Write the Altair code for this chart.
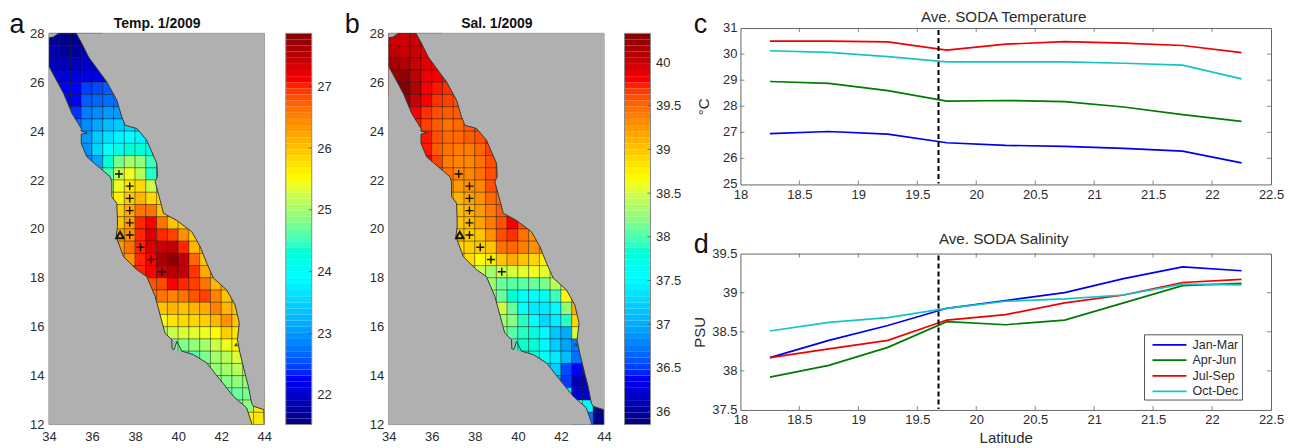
import altair as alt
import numpy as np
import pandas as pd

# ---------- map grids (cell centres, 0.5 deg cells) ----------
LATS = [27.75,27.25,26.75,26.25,25.75,25.25,24.75,24.25,23.75,23.25,22.75,22.25,21.75,21.25,20.75,20.25,
        19.75,19.25,18.75,18.25,17.75,17.25,16.75,16.25,15.75,15.25,14.75,14.25,13.75,13.25,12.75,12.25]
T_START = [34.25,34.25,34.25,34.25,34.25,34.75,34.75,35.25,35.75,35.75,35.75,36.25,36.75,36.75,36.75,36.75,
           36.75,36.75,37.25,37.75,38.25,38.25,38.75,38.75,38.75,39.25,39.75,40.75,41.25,41.75,42.25,43.25]
TEMP = [
 [21.65,21.6,21.6,21.7],
 [21.8,21.7,21.7,21.8],
 [21.9,21.9,21.9,22.0,22.0],
 [22.1,22.1,22.1,22.15,22.2,22.3],
 [22.2,22.25,22.3,22.45,22.5,22.6],
 [22.3,22.3,22.6,22.65,22.7,22.7],
 [22.3,22.4,22.8,22.9,23.0,23.0],
 [22.7,22.9,23.1,23.3,23.4,23.5,23.5],
 [23.0,23.4,23.6,23.8,23.9,23.8,23.8],
 [22.95,23.5,24.0,24.15,24.3,24.3,24.2],
 [22.9,23.1,24.3,24.8,25.0,24.9,24.5],
 [24.2,24.5,25.15,25.4,25.1,24.4],
 [25.0,25.4,25.7,25.8,25.2],
 [25.4,25.6,25.95,26.1,25.8],
 [25.6,25.9,26.2,26.6,26.6,26.0],
 [25.8,26.0,26.3,27.0,27.1,26.6,26.0,25.9],
 [26.0,26.2,26.4,27.0,27.3,27.0,26.9,26.4,25.9],
 [26.1,26.3,26.6,27.0,27.3,27.4,27.45,27.0,26.1],
 [26.2,26.4,27.0,27.1,27.6,27.8,27.45,26.7,26.0],
 [26.8,27.0,27.1,27.4,27.5,27.45,26.95,26.2],
 [26.8,26.8,26.85,27.1,27.0,26.9,26.6,26.1],
 [26.6,26.6,26.6,26.5,26.6,26.8,26.9,26.5,26.0],
 [26.0,26.0,26.1,26.0,26.1,26.2,26.5,26.1,26.0],
 [25.5,25.5,25.7,25.8,25.85,25.9,26.1,26.4,26.0],
 [25.1,25.1,25.2,25.3,25.35,25.4,25.5,25.9,25.7],
 [25.0,24.7,24.8,24.9,25.0,25.2,25.4,25.5],
 [24.6,24.6,24.6,24.8,25.0,25.1,25.3],
 [24.8,24.9,24.95,25.0,25.1],
 [24.8,24.9,24.85,24.9],
 [24.7,24.7,24.7,24.8],
 [24.8,24.8,24.9,25.7],
 [25.6,25.7],
]
S_START = T_START
SAL = [
 [40.0,40.0,40.0,39.95],
 [40.05,40.0,40.0,39.9],
 [40.15,40.1,40.0,39.9,39.8],
 [40.2,40.25,40.05,39.85,39.8,39.75],
 [40.25,40.3,40.1,39.8,39.75,39.7],
 [40.2,40.0,39.8,39.7,39.65,39.6],
 [39.9,39.8,39.7,39.6,39.55,39.55],
 [39.75,39.65,39.55,39.45,39.5,39.55,39.6],
 [39.75,39.6,39.5,39.5,39.55,39.6,39.65],
 [39.75,39.55,39.45,39.4,39.4,39.5,39.65],
 [39.8,39.65,39.4,39.35,39.35,39.45,39.6],
 [39.5,39.45,39.35,39.35,39.45,39.6],
 [39.3,39.25,39.3,39.35,39.6],
 [39.1,39.1,39.2,39.3,39.5],
 [39.05,39.05,39.1,39.25,39.4,39.55],
 [39.0,39.0,39.05,39.2,39.4,39.6,39.8,39.6],
 [38.95,38.95,38.95,39.0,39.3,39.6,39.7,39.45,39.3],
 [38.9,38.9,38.95,38.95,39.0,39.45,39.5,39.4,39.3],
 [38.85,38.85,38.65,38.75,39.0,39.15,39.0,38.9,38.75],
 [38.45,38.45,38.3,38.45,38.5,38.55,38.6,38.55],
 [38.3,38.3,38.1,38.05,38.05,38.1,38.15,38.4],
 [38.25,38.25,38.1,37.8,37.6,37.55,37.65,37.95,38.65],
 [38.45,38.45,38.1,37.6,37.4,37.4,37.5,38.25,39.1],
 [38.3,38.3,38.2,37.9,37.55,37.25,37.4,37.9,38.9],
 [38.2,38.2,38.05,37.9,37.75,37.5,37.15,37.0,38.5],
 [38.0,37.95,37.85,37.8,37.5,37.2,36.95,36.75],
 [37.85,37.85,37.75,37.6,37.4,37.1,36.7],
 [37.75,37.65,37.2,36.55,36.4],
 [37.45,37.1,36.5,36.1],
 [37.8,37.7,36.2,36.2],
 [37.9,37.9,37.5,35.9],
 [36.7,35.9],
]

# ---------- coast lines ----------
WEST_LAT = [28.0,27.85,27.82,26.65,25.54,24.72,24.11,24.0,23.93,23.88,23.5,22.95,22.48,22.14,21.93,21.32,21.05,20.37,
            20.1,19.69,18.87,18.33,18.05,17.24,16.49,15.74,15.47,15.09,15.08,15.40,15.0,14.86,14.52,13.84,13.16,12.68,12.07,12.0]
WEST_LON = [34.45,34.2,34.0,34.0,34.68,35.07,35.5,35.5,35.78,35.5,35.5,35.76,36.38,36.84,36.92,36.92,37.15,37.18,
            37.18,37.12,37.46,38.08,38.54,38.93,39.16,39.39,39.70,39.72,39.82,39.94,40.17,40.71,41.33,41.94,42.56,43.18,43.41,43.41]
EAST_LAT = [28.0,27.58,27.03,26.56,26.01,25.27,24.59,24.24,24.11,23.63,22.68,22.14,21.93,21.18,20.64,20.37,19.89,19.28,
            18.6,17.99,17.51,16.9,16.15,15.47,14.93,14.11,13.56,12.88,12.75,12.61,12.0]
EAST_LON = [35.27,35.53,35.84,36.23,36.69,37.15,37.38,37.54,38.08,38.54,39.01,39.04,38.93,39.16,39.32,39.9,40.63,41.02,
            41.33,41.64,42.25,42.64,42.84,42.75,42.87,43.1,43.26,43.41,43.49,43.98,44.0]

CROSS_LON = [37.25,37.75,37.75,37.75,37.75,37.75,38.25,38.75,39.25]
CROSS_LAT = [22.25,21.75,21.25,20.75,20.25,19.75,19.25,18.75,18.25]
TRI_LON = [37.3]
TRI_LAT = [19.75]
ISLAND_LON = [42.69]
ISLAND_LAT = [15.27]

# ---------- line charts ----------
LAT = [18.25,18.75,19.25,19.75,20.25,20.75,21.25,21.75,22.25]
SEASONS = ["Jan-Mar","Apr-Jun","Jul-Sep","Oct-Dec"]
SEASON_COLORS = ["#0000ee","#007a00","#f00000","#14c4c4"]
SODA_T = {
 "Jan-Mar":[26.95,27.03,26.93,26.6,26.5,26.46,26.38,26.28,25.83],
 "Apr-Jun":[28.95,28.88,28.6,28.2,28.22,28.18,27.97,27.68,27.42],
 "Jul-Sep":[30.5,30.5,30.47,30.15,30.38,30.48,30.42,30.33,30.06],
 "Oct-Dec":[30.13,30.07,29.9,29.7,29.7,29.7,29.65,29.58,29.05],
}
SODA_S = {
 "Jan-Mar":[38.17,38.39,38.58,38.8,38.9,39.0,39.18,39.33,39.28],
 "Apr-Jun":[37.92,38.07,38.3,38.63,38.59,38.65,38.87,39.09,39.12],
 "Jul-Sep":[38.17,38.28,38.39,38.65,38.72,38.87,38.97,39.13,39.17],
 "Oct-Dec":[38.51,38.62,38.68,38.8,38.89,38.92,38.97,39.11,39.1],
}
DASH_LAT = [19.68]

FONT = "Liberation Sans"
TXT = "#2b2b2b"
MAP_W, MAP_H = 215.5, 391.5
DROP = 5.3   # maps start this far below the line chart's top
CB_W = 26
TAG = 27
JET_T = [0, 0.125, 0.375, 0.625, 0.875, 1]
JET_C = ["#00007f","#0000ff","#00ffff","#ffff00","#ff0000","#7f0000"]
ONE = pd.DataFrame({"a": [0]})


def jet_scale(vmin, vmax):
    return alt.Scale(domain=[vmin + t * (vmax - vmin) for t in JET_T], range=JET_C, clamp=True)


def cell_frame(starts, rows):
    recs = []
    for lat, start, vals in zip(LATS, starts, rows):
        vv = [vals[0]] + list(vals) + [vals[-1]]
        for i, v in enumerate(vv):
            lon = start + (i - 1) * 0.5
            recs.append({"lon0": lon - 0.25, "lon1": lon + 0.25, "lat0": lat - 0.25, "lat1": lat + 0.25, "v": v})
    return pd.DataFrame(recs)


def text(s, x, y, size, weight="normal", align="left", baseline="alphabetic", color="#111"):
    return alt.Chart(ONE).mark_text(text=s, font=FONT, fontSize=size, fontWeight=weight, align=align,
                                    baseline=baseline, color=color).encode(x=alt.value(x), y=alt.value(y))


def map_panel(title, starts, rows, vmin, vmax, tag, tag_x, tag_y):
    xs = alt.Scale(domain=[34, 44], nice=False, zero=False)
    ys = alt.Scale(domain=[12, 28], nice=False, zero=False, range=[MAP_H + DROP, DROP])
    xax = alt.Axis(values=list(range(34, 45, 2)), title=None, ticks=False, domain=False, grid=False,
                   labelFont=FONT, labelFontSize=13, labelColor=TXT, labelPadding=6, format="d", labelFlush=False)
    yax = alt.Axis(values=list(range(12, 29, 2)), title=None, ticks=False, domain=False, grid=False,
                   labelFont=FONT, labelFontSize=13, labelColor=TXT, labelPadding=5, format="d", labelFlush=False)
    bg = alt.Chart(pd.DataFrame({"x0": [34], "x1": [44], "y0": [12], "y1": [28]})).mark_rect(
        fill="#b0b0b0", stroke="#8a8a8a", strokeWidth=1).encode(
        x=alt.X("x0:Q", scale=xs, axis=xax), x2="x1:Q", y=alt.Y("y0:Q", scale=ys, axis=yax), y2="y1:Q")
    cells = alt.Chart(cell_frame(starts, rows)).mark_rect(stroke="#000", strokeOpacity=0.4, strokeWidth=0.8, clip=True).encode(
        x=alt.X("lon0:Q", scale=xs), x2="lon1:Q",
        y=alt.Y("lat0:Q", scale=ys), y2="lat1:Q",
        color=alt.Color("v:Q", scale=jet_scale(vmin, vmax), legend=None),
    )
    west = pd.DataFrame({"lat": WEST_LAT, "lon": WEST_LON, "edge": 34.0, "i": range(len(WEST_LAT))})
    east = pd.DataFrame({"lat": EAST_LAT, "lon": EAST_LON, "edge": 44.0, "i": range(len(EAST_LAT))})
    layers = [bg, cells]
    for df in (west, east):
        layers.append(alt.Chart(df).mark_area(orient="horizontal", fill="#b0b0b0", opacity=1).encode(
            y=alt.Y("lat:Q", scale=ys), x=alt.X("lon:Q", scale=xs), x2=alt.X2("edge")))
        layers.append(alt.Chart(df).mark_line(color="#3a3a3a", strokeWidth=1, clip=True).encode(
            y=alt.Y("lat:Q", scale=ys), x=alt.X("lon:Q", scale=xs), order="i:Q"))
    layers.append(alt.Chart(pd.DataFrame({"lon": CROSS_LON, "lat": CROSS_LAT})).mark_point(
        shape="M-1,0L1,0M0,-1L0,1", size=64, stroke="#111", strokeWidth=1.4, filled=False, opacity=1
    ).encode(x=alt.X("lon:Q", scale=xs), y=alt.Y("lat:Q", scale=ys)))
    layers.append(alt.Chart(pd.DataFrame({"lon": TRI_LON, "lat": TRI_LAT})).mark_point(
        shape="triangle-up", size=55, stroke="#111", strokeWidth=2, filled=False, opacity=1
    ).encode(x=alt.X("lon:Q", scale=xs), y=alt.Y("lat:Q", scale=ys)))
    layers.append(alt.Chart(pd.DataFrame({"lon": ISLAND_LON, "lat": ISLAND_LAT})).mark_point(
        shape="triangle-up", size=8, stroke="#333", strokeWidth=1, fill="#b0b0b0", opacity=1
    ).encode(x=alt.X("lon:Q", scale=xs), y=alt.Y("lat:Q", scale=ys)))
    layers.append(text(tag, tag_x, tag_y, TAG))
    layers.append(text(title, MAP_W / 2 + 0.5, -3.7, 14, "bold", "center", "middle"))
    return alt.layer(*layers).properties(width=MAP_W, height=MAP_H + DROP,
                                         view=alt.ViewBackground(stroke="transparent"))


def colorbar(vmin, vmax, ticks):
    n = 64
    edges = np.linspace(vmin, vmax, n + 1)
    df = pd.DataFrame({"a": edges[:-1], "b": edges[1:], "v": (edges[:-1] + edges[1:]) / 2})
    ys = alt.Scale(domain=[vmin, vmax], nice=False, zero=False, range=[MAP_H + DROP, DROP])
    bar = alt.Chart(df).mark_rect().encode(
        x=alt.value(0), x2=alt.value(CB_W),
        y=alt.Y("a:Q", scale=ys, axis=alt.Axis(orient="right", values=ticks, title=None, ticks=False, domain=False,
                                              grid=False, labelFont=FONT, labelFontSize=13, labelColor=TXT,
                                              labelPadding=5, format=".1~f", labelOverlap=False)),
        y2="b:Q",
        color=alt.Color("v:Q", scale=jet_scale(vmin, vmax), legend=None),
    )
    frame = alt.Chart(pd.DataFrame({"y0": [vmin], "y1": [vmax]})).mark_rect(fill="transparent", stroke="#8a8a8a").encode(
        x=alt.value(0), x2=alt.value(CB_W), y=alt.Y("y0:Q", scale=ys), y2="y1:Q")
    tk = alt.Chart(pd.DataFrame({"t": ticks})).mark_tick(color="#444", orient="horizontal", size=3, thickness=1).encode(
        y=alt.Y("t:Q", scale=ys), x=alt.value(CB_W - 1.5))
    return alt.layer(bar, frame, tk).properties(width=CB_W, height=MAP_H + DROP,
                                                view=alt.ViewBackground(stroke="transparent"))


def legend_layers():
    out = [alt.Chart(ONE).mark_rect(fill="white", stroke="#555", strokeWidth=1).encode(
        x=alt.value(404.4), x2=alt.value(502.4), y=alt.value(81.3), y2=alt.value(146.6))]
    for s, c, y in zip(SEASONS, SEASON_COLORS, [91.3, 106.6, 122.3, 138.0]):
        out.append(alt.Chart(ONE).mark_rule(color=c, strokeWidth=1.7).encode(
            x=alt.value(412.4), x2=alt.value(446.4), y=alt.value(y)))
        out.append(text(s, 452.4, y, 12.5, baseline="middle", color=TXT))
    return out


def line_panel(title, series, ydom, yvals, ylab, ytp, tag, tag_y, title_y, show_legend, xlab):
    w, h = 531, 156.5
    xs = alt.Scale(domain=[18, 22.5], nice=False, zero=False)
    ys = alt.Scale(domain=ydom, nice=False, zero=False)
    xvals = [18, 18.5, 19, 19.5, 20, 20.5, 21, 21.5, 22, 22.5]
    df = pd.DataFrame([{"lat": la, "v": v, "s": s} for s in SEASONS for la, v in zip(LAT, series[s])])
    lines = alt.Chart(df).mark_line(strokeWidth=1.7).encode(
        x=alt.X("lat:Q", scale=xs, axis=alt.Axis(values=xvals, title=xlab, ticks=False, domain=False, grid=False,
                                                 labelFont=FONT, labelFontSize=13, labelColor=TXT, labelPadding=4,
                                                 format=".1~f", labelOverlap=False, labelFlush=False, titleFont=FONT,
                                                 titleFontSize=15, titleFontWeight="normal", titleColor=TXT,
                                                 titlePadding=3.5)),
        y=alt.Y("v:Q", scale=ys, axis=alt.Axis(values=yvals, title=ylab, ticks=False, domain=False, grid=False,
                                               labels=False, titleFont=FONT,
                                               titleFontSize=15, titleFontWeight="normal", titleColor=TXT,
                                               titlePadding=ytp)),
        color=alt.Color("s:N", scale=alt.Scale(domain=SEASONS, range=SEASON_COLORS), legend=None),
    )
    ylabels = alt.Chart(pd.DataFrame({"t": yvals, "l": ["%g" % v for v in yvals]})).mark_text(
        font=FONT, fontSize=13, color=TXT, align="right", baseline="middle").encode(
        y=alt.Y("t:Q", scale=ys), x=alt.value(-3), text="l:N")
    dash = alt.Chart(pd.DataFrame({"x": DASH_LAT})).mark_rule(color="#000", strokeWidth=2, strokeDash=[5, 3]).encode(
        x=alt.X("x:Q", scale=xs), y=alt.value(2), y2=alt.value(h - 1))
    xt = pd.DataFrame({"t": xvals[1:-1]})
    yt = pd.DataFrame({"t": yvals[1:-1]})
    ticks = [
        alt.Chart(xt).mark_tick(color="#555", orient="vertical", size=4, thickness=1).encode(
            x=alt.X("t:Q", scale=xs), y=alt.value(h - 2)),
        alt.Chart(xt).mark_tick(color="#555", orient="vertical", size=4, thickness=1).encode(
            x=alt.X("t:Q", scale=xs), y=alt.value(2)),
        alt.Chart(yt).mark_tick(color="#555", orient="horizontal", size=4, thickness=1).encode(
            y=alt.Y("t:Q", scale=ys), x=alt.value(2)),
        alt.Chart(yt).mark_tick(color="#555", orient="horizontal", size=4, thickness=1).encode(
            y=alt.Y("t:Q", scale=ys), x=alt.value(w - 2)),
    ]
    extra = legend_layers() if show_legend else []
    return alt.layer(lines, ylabels, dash, *ticks, *extra, text(tag, -46.6, tag_y, TAG),
                     text(title, w / 2 - 2, title_y, 15.2, "normal", "center", "middle", TXT)).properties(
        width=w, height=h, view=alt.ViewBackground(stroke="#666"))


def gap(w):
    return alt.Chart(ONE).mark_point(opacity=0).encode(x=alt.value(0)).properties(
        width=w, height=1, view=alt.ViewBackground(stroke="transparent"))


map_a = map_panel("Temp. 1/2009", T_START, TEMP, 21.52, 27.86, "a", -39.5, 4.7)
cb_a = colorbar(21.52, 27.86, [22, 23, 24, 25, 26, 27])
map_b = map_panel("Sal. 1/2009", S_START, SAL, 35.85, 40.33, "b", -44, 4.7)
cb_b = colorbar(35.85, 40.33, [36, 36.5, 37, 37.5, 38, 38.5, 39, 39.5, 40])
chart_c = line_panel("Ave. SODA Temperature", SODA_T, [25, 31], [25, 26, 27, 28, 29, 30, 31], "°C", 29, "c", 4.7, -11.2, False, None)
chart_d = line_panel("Ave. SODA Salinity", SODA_S, [37.5, 39.5], [37.5, 38, 38.5, 39, 39.5], "PSU", 33, "d", -1, -14.7, True, "Latitude")

left = alt.hconcat(map_a, gap(21), cb_a, gap(76.2), map_b, gap(20), cb_b, spacing=0).properties(
    bounds="flush").resolve_scale(color="independent")
right = alt.vconcat(chart_c, chart_d, spacing=68.7).properties(bounds="flush").resolve_scale(color="independent")

chart = alt.hconcat(left, right, spacing=10).properties(
    padding={"left": 1, "top": 0.9, "right": 2, "bottom": 0},
    background="white",
).resolve_scale(color="independent").configure_axis(labelOverlap=False, labelFlush=False)

chart.save("out.html", embed_options={"renderer": "svg", "actions": False})
